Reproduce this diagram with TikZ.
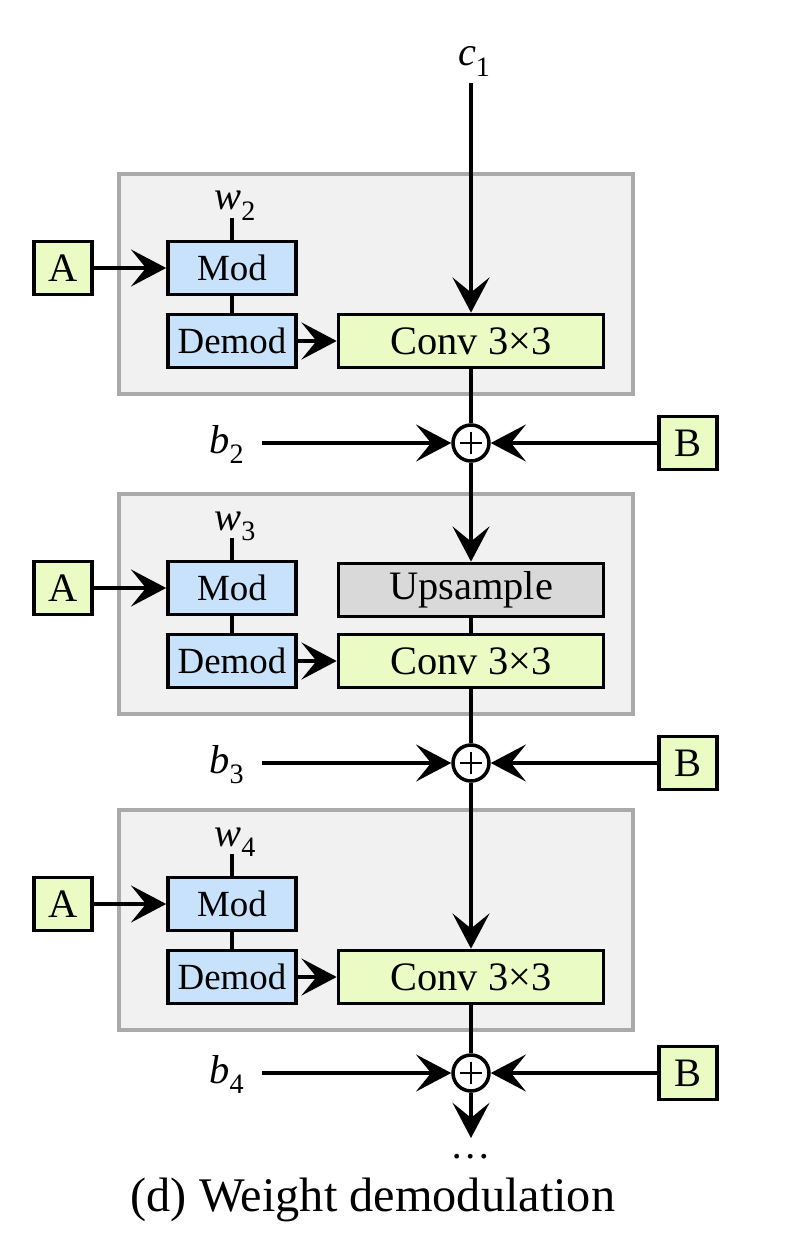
\documentclass[tikz,border=0pt]{standalone}
\usepackage{fontspec}
\setmainfont{Liberation Serif}
\usetikzlibrary{arrows.meta}

\definecolor{convgreen}{RGB}{235,251,196}
\definecolor{modblue}{RGB}{199,226,250}
\definecolor{upgray}{RGB}{217,217,217}
\definecolor{stagefill}{RGB}{241,241,241}
\definecolor{stageline}{RGB}{170,170,170}

% italic letter with a lowered upright index
\newcommand{\itsub}[2]{\textit{#1}\raisebox{-0.27em}{\fontsize{16}{18}\selectfont #2}}

\begin{document}
\begin{tikzpicture}[x=0.02cm, y=-0.02cm,
  wire/.style={line width=2.5pt},
  arr/.style={wire, -{Stealth[length=20pt, width=21pt, inset=8.5pt]}},
  stagebox/.style={fill=stagefill, draw=stageline, line width=1.9pt},
  blk/.style={draw, line width=2.1pt, inner sep=0pt, minimum height=1.06cm, font=\fontsize{23}{26}\selectfont},
  modbox/.style={blk, fill=modblue, minimum width=2.56cm, font=\fontsize{21}{24}\selectfont},
  convbox/.style={blk, fill=convgreen, minimum width=5.3cm},
  upbox/.style={blk, fill=upgray, minimum width=5.3cm},
  inbox/.style={blk, fill=convgreen, minimum width=1.15cm},
  sum/.style={circle, draw, fill=white, line width=2pt, minimum size=0.72cm, inner sep=0pt,
    path picture={\draw[line width=1.2pt]
      ([xshift=-0.22cm]path picture bounding box.center) -- ([xshift=0.22cm]path picture bounding box.center)
      ([yshift=-0.22cm]path picture bounding box.center) -- ([yshift=0.22cm]path picture bounding box.center);}},
  lbl/.style={font=\fontsize{23}{26}\selectfont}
]
\useasboundingbox (0,0) rectangle (810,1250);

% Three stages: index / vertical offset / height of the adder
\foreach \k/\dy/\py in {2/0/443, 3/320/763, 4/636/1073}{
  % Grey stage
  \draw[stagebox] (119,174+\dy) rectangle (633,394+\dy);

  % Boxes
  \node[modbox] (mod\k) at (232,268+\dy) {Mod};
  \node[modbox] (demod\k) at (232,341+\dy) {Demod};
  \node[convbox] (conv\k) at (471,341+\dy) {Conv 3×3};
  \node[inbox] (ain\k) at (63,268+\dy) {A};
  \node[lbl, anchor=base] (wlab\k) at (235,210+\dy) {\itsub{w}{\k}};
  \coordinate (wtop\k) at (232,218+\dy);

  % Adder with bias and noise
  \node[sum] (plus\k) at (471,\py) {};
  \node[inbox] (bin\k) at (688,\py) {B};
  \node[lbl, anchor=base east] (blab\k) at (250,\py+10) {\itsub{b}{\k}};
  \coordinate (bstart\k) at (262,\py);

  \draw[arr] (ain\k) -- (mod\k);
  \draw[wire] (wtop\k) -- (mod\k.north);
  \draw[wire] (mod\k) -- (demod\k);
  \draw[arr] (demod\k) -- (conv\k);
  \draw[wire] (conv\k) -- (plus\k);
  \draw[arr] (bstart\k) -- (plus\k);
  \draw[arr] (bin\k) -- (plus\k);
}

% Input
\node[lbl, anchor=base] (c1) at (474,66) {\itsub{c}{1}};
\coordinate (ctop) at (471,83);
\draw[arr] (ctop) -- (conv2);

% Upsampling in the second stage
\node[upbox] (up3) at (471,590) {Upsample};
\draw[arr] (plus2) -- (up3);
\draw[wire] (up3) -- (conv3);
\draw[arr] (plus3) -- (conv4);

% Output
\coordinate (out) at (471,1138);
\draw[arr] (plus4) -- (out);
\node[lbl] (dots) at (471,1157) {…};

\node[font=\fontsize{27.5}{32}\selectfont] (caption) at (373,1200) {(d) Weight demodulation};
\end{tikzpicture}
\end{document}
